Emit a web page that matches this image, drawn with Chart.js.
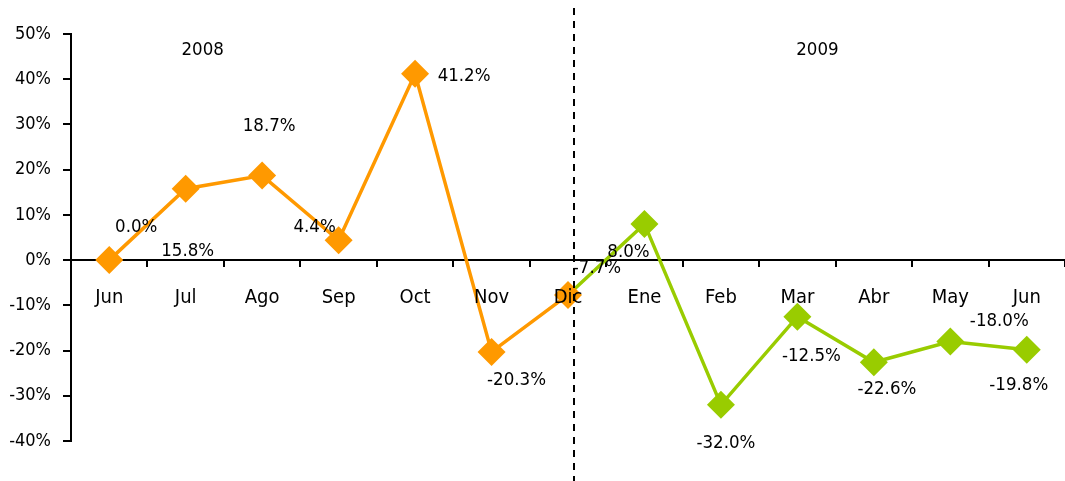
<!DOCTYPE html>
<html>
<head>
<meta charset="utf-8">
<script src="https://cdn.jsdelivr.net/npm/chart.js@4/dist/chart.umd.min.js"></script>
<style>
  body { margin: 0; background: #fff; }
  #wrap { width: 1065px; height: 481px; }
</style>
</head>
<body>
<div id="wrap"><canvas id="growthChart" width="1065" height="481"></canvas></div>
<script>
// months on the category axis
const months = ['Jun', 'Jul', 'Ago', 'Sep', 'Oct', 'Nov', 'Dic', 'Ene', 'Feb', 'Mar', 'Abr', 'May', 'Jun'];
// monthly growth, %
const growth2008 = [0.0, 15.8, 18.7, 4.4, 41.2, -20.3, -7.7]; // Jun..Dic 2008
const growth2009 = [8.0, -32.0, -12.5, -22.6, -18.0, -19.8];  // Ene..Jun 2009
const yearNames = ['2008', '2009'];
const yTicks = { min: -40, max: 50, step: 10 };

// label nudges (px) relative to each point, same order as months
const labelOffsets = [
  [27, -33], [2, 63], [7, -49], [-24, -13], [49, 2], [25, 28], [29, -27],
  [-16, 28], [5, 38], [14, 40], [13, 27], [49, -20], [-8, 36]
];

const orange = '#FF9900';
const green = '#99CC00';
const fontFamily = '"DejaVu Sans Condensed", "Liberation Sans Narrow", "DejaVu Sans", sans-serif';

// 2008 line runs Jun..Dic, 2009 line picks up from the Dic point
const data2008 = growth2008.concat(new Array(growth2009.length).fill(null));
const data2009 = new Array(growth2008.length - 1).fill(null)
  .concat([growth2008[growth2008.length - 1]], growth2009);
const allValues = growth2008.concat(growth2009);

const pointLabels = {
  id: 'pointLabels',
  afterDraw(chart) {
    const ctx = chart.ctx;
    const xs = chart.scales.x, ys = chart.scales.y;
    ctx.save();
    ctx.font = '18.5px ' + fontFamily;
    ctx.fillStyle = '#000';
    ctx.textAlign = 'center';
    ctx.textBaseline = 'middle';
    allValues.forEach((v, i) => {
      const px = xs.getPixelForValue(i);
      const py = ys.getPixelForValue(v);
      ctx.fillText(v.toFixed(1) + '%', px + labelOffsets[i][0], py + labelOffsets[i][1]);
    });

    // year captions
    ctx.fillText(yearNames[0], xs.getPixelForValue(1) + 17, 50);
    ctx.fillText(yearNames[1], xs.getPixelForValue(9) + 20, 50);

    // dashed divider between the years
    const dx = Math.round(xs.getPixelForValue(growth2008.length - 1) + 6);
    ctx.strokeStyle = '#000';
    ctx.lineWidth = 2;
    ctx.setLineDash([7, 6]);
    ctx.beginPath();
    ctx.moveTo(dx, 8);
    ctx.lineTo(dx, chart.height);
    ctx.stroke();
    ctx.restore();
  }
};

const ctx = document.getElementById('growthChart').getContext('2d');
const chart = new Chart(ctx, {
  type: 'line',
  data: {
    labels: months,
    datasets: [{
      data: data2008,
      borderColor: orange,
      backgroundColor: orange,
      borderWidth: 3.5,
      pointStyle: 'rectRot',
      pointRadius: 14,
      pointBorderWidth: 0,
      tension: 0
    }, {
      data: data2009,
      borderColor: green,
      backgroundColor: green,
      borderWidth: 3.5,
      pointStyle: 'rectRot',
      pointRadius: data2009.map((v, i) => i < growth2008.length ? 0 : 14),
      pointBorderWidth: 0,
      tension: 0
    }]
  },
  options: {
    responsive: false,
    animation: false,
    layout: { autoPadding: false, padding: { left: 0, top: 34, right: -3, bottom: 40 } },
    plugins: {
      legend: { display: false },
      tooltip: { enabled: false }
    },
    scales: {
      x: {
        position: { y: 0 },
        offset: true,
        afterFit(scale) { scale.paddingLeft = 0; scale.paddingRight = 0; },
        grid: {
          offset: true,
          drawOnChartArea: false,
          drawTicks: true,
          tickLength: 6,
          lineWidth: 2,
          color: '#000'
        },
        border: { display: true, color: '#000', width: 2 },
        ticks: {
          z: 1,
          padding: 20,
          color: '#000',
          font: { family: fontFamily, size: 20 }
        }
      },
      y: {
        min: yTicks.min,
        max: yTicks.max,
        afterFit(scale) { scale.width = 71; },
        grid: {
          drawOnChartArea: false,
          drawTicks: true,
          tickLength: 8,
          lineWidth: 2,
          color: '#000'
        },
        border: { display: true, color: '#000', width: 2 },
        ticks: {
          stepSize: yTicks.step,
          padding: 12,
          color: '#000',
          font: { family: fontFamily, size: 18 },
          callback: v => v + '%'
        }
      }
    }
  },
  plugins: [pointLabels]
});
</script>
</body>
</html>
